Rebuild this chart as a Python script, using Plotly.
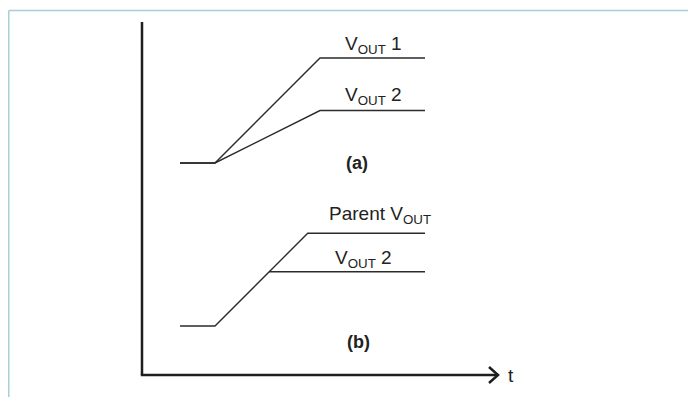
import plotly.graph_objects as go

# the page body adds an 8px margin, so the figure is a bit smaller than the window
OFF = 8
W, H = 696 - OFF, 397 - OFF

# time breakpoints (arbitrary units) and output voltages
t_a = [0, 1, 4, 7]
vout1_a = [0, 0, 3, 3]
vout2_a = [0, 0, 1.5, 1.5]

t_parent_b = [0, 1, 3.65, 7]
parent_b = [0, 0, 2.65, 2.65]
t_vout2_b = [2.55, 7]
vout2_b = [1.55, 1.55]

line_col = '#2b2b2b'
axis_col = '#1e1e1e'


def paper(x, y):
    # reference-window pixels -> paper coords
    return (x - OFF) / W, 1 - (y - OFF) / H


fig = go.Figure()
fig.add_trace(go.Scatter(x=t_a, y=vout1_a, mode='lines', line=dict(color=line_col, width=1.4), yaxis='y'))
fig.add_trace(go.Scatter(x=t_a, y=vout2_a, mode='lines', line=dict(color=line_col, width=1.4), yaxis='y'))
fig.add_trace(go.Scatter(x=t_parent_b, y=parent_b, mode='lines', line=dict(color=line_col, width=1.4), yaxis='y2'))
fig.add_trace(go.Scatter(x=t_vout2_b, y=vout2_b, mode='lines', line=dict(color=line_col, width=1.4), yaxis='y2'))

# frame border (light teal, top and left)
bx, by = paper(8.75, 10.5)
fig.add_shape(type='line', xref='paper', yref='paper', x0=bx, y0=by, x1=1, y1=by,
              line=dict(color='#a8ced8', width=1.5))
fig.add_shape(type='line', xref='paper', yref='paper', x0=bx, y0=by, x1=bx, y1=0,
              line=dict(color='#a8ced8', width=1.5))

# axes
ax0, ay0 = paper(142, 22)
ax1, ay1 = paper(142, 375)
ax2, _ = paper(498, 375)
fig.add_shape(type='line', xref='paper', yref='paper', x0=ax0, y0=ay0, x1=ax1, y1=ay1,
              line=dict(color=axis_col, width=2.5))
fig.add_shape(type='line', xref='paper', yref='paper', x0=ax1 - 1.2 / W, y0=ay1, x1=ax2, y1=ay1,
              line=dict(color=axis_col, width=2.5))
h1x, h1y = paper(489, 367)
h2x, h2y = paper(489, 383)
fig.add_shape(type='path', xref='paper', yref='paper',
              path=f'M {h1x},{h1y} L {ax2},{ay1} L {h2x},{h2y}',
              line=dict(color=axis_col, width=2.5))

font = dict(family='Liberation Sans, Arial, sans-serif', size=19, color='#222222')
labels = [
    ('V<sub>OUT</sub> 1', 373, 45, False),
    ('V<sub>OUT</sub> 2', 373, 96, False),
    ('(a)', 357, 163, True),
    ('Parent V<sub>OUT</sub>', 380, 215, False),
    ('V<sub>OUT</sub> 2', 363, 259, False),
    ('(b)', 358, 342, True),
    ('t', 511, 375, False),
]
for text, x, y, bold in labels:
    px_, py_ = paper(x, y)
    f = dict(font)
    if bold:
        text = f'<b>{text}</b>'
        f['size'] = 18
    fig.add_annotation(x=px_, y=py_, xref='paper', yref='paper', text=text, showarrow=False,
                       xanchor='center', yanchor='middle', font=f)

# map time units to pixels: x_px = 180 + 35 t ; y_px = base - 35 v (reference window pixels)
fig.update_layout(
    width=W, height=H,
    margin=dict(l=0, r=0, t=0, b=0),
    paper_bgcolor='white', plot_bgcolor='white',
    showlegend=False,
    xaxis=dict(range=[(OFF - 180) / 35, (OFF + W - 180) / 35], visible=False, fixedrange=True),
    yaxis=dict(range=[(163 - OFF - H) / 35, (163 - OFF) / 35], visible=False, fixedrange=True),
    yaxis2=dict(range=[(326 - OFF - H) / 35, (326 - OFF) / 35], visible=False, overlaying='y', fixedrange=True),
)

fig.write_html('out.html')
